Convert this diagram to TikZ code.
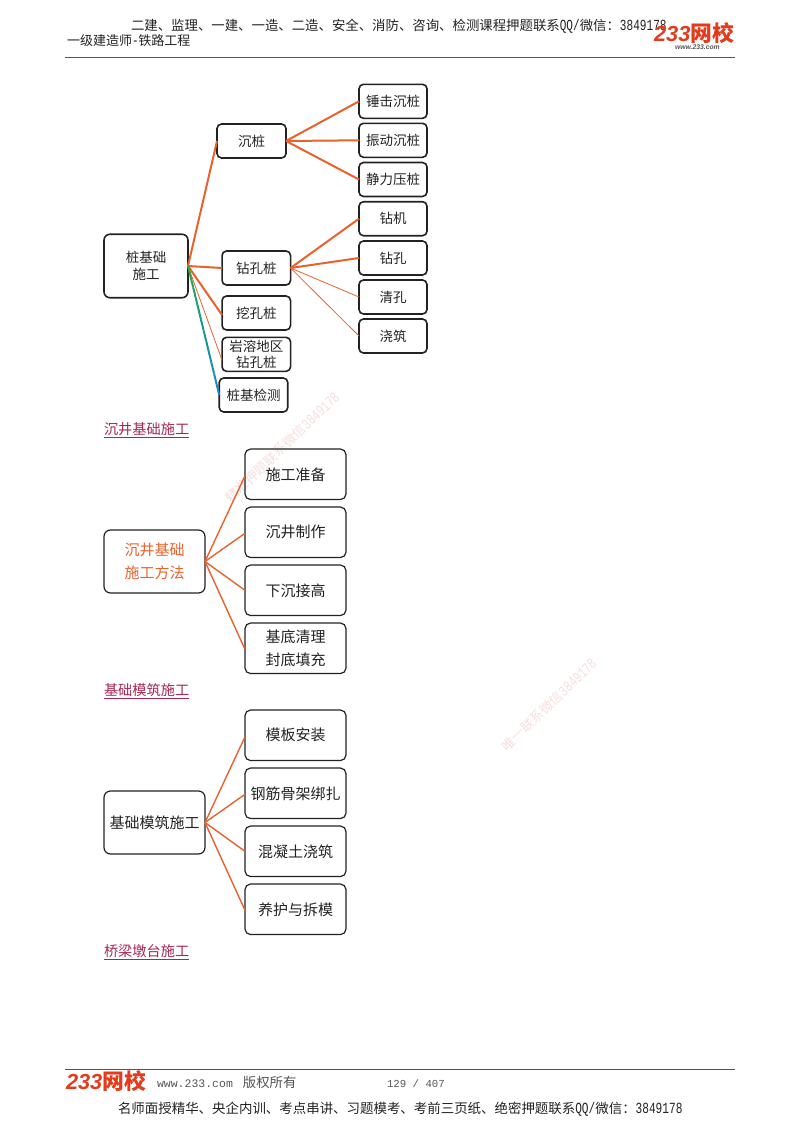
\documentclass[tikz,border=0pt]{standalone}
\usepackage{fontspec}
\usetikzlibrary{calc}
\setmainfont{Noto Sans CJK SC}
\newfontfamily\hm[Scale=1.15,FakeStretch=0.72]{Liberation Mono}
\newfontfamily\wm{Liberation Mono}
\newfontfamily\logocjk[UprightFeatures={FakeSlant=0.2},BoldFeatures={FakeSlant=0.2}]{Noto Sans CJK SC}
\newfontfamily\logolat{Liberation Sans}
\definecolor{edgeo}{HTML}{E8622C}
\definecolor{ink}{HTML}{222222}
\definecolor{linkc}{HTML}{A6274F}
\definecolor{wmark}{HTML}{F5DEDE}
\definecolor{logor}{HTML}{E23C1C}
\definecolor{rule}{HTML}{555555}
\definecolor{cA}{HTML}{22A84F}
\definecolor{cB}{HTML}{1C86C8}
\newcommand{\fs}[2]{\fontsize{#1}{#2}\selectfont}
\tikzset{
  box/.style={draw=ink,rounded corners=4.5pt,inner sep=0pt,outer sep=0pt,align=center,text=ink,line width=1.6pt,font=\fs{13.5}{16.5}},
  big/.style={box,rounded corners=5.5pt,line width=1.2pt,font=\fs{15}{22.8}},
  thick edge/.style={draw=edgeo,line width=2pt},
  mid edge/.style={draw=edgeo,line width=1.4pt},
  thin edge/.style={draw=edgeo,line width=0.8pt},
  plain/.style={inner sep=0pt,outer sep=0pt,text=ink},
  link/.style={plain,anchor=west,text=linkc,font=\fs{14.2}{16}},
  wtext/.style={plain,text=wmark,rotate=44,font=\fs{13.2}{16}},
  logo/.style={plain,text=logor,font=\bfseries\logocjk\fs{21.8}{24}},
}
\begin{document}
\begin{tikzpicture}[x=1pt,y=-1pt]
\useasboundingbox (0,0) rectangle (800,1132);
% watermarks
\node[wtext] (w1) at (282.5,447.5) {精准押题联系微信{\hm 3849178}};
\node[wtext] (w2) at (549,705) {唯一联系微信{\hm 3849178}};
% header
\node[plain,anchor=west,font=\fs{13.4}{16}] (h1) at (131,26) {二建、监理、一建、一造、二造、安全、消防、咨询、检测课程押题联系{\hm QQ/}微信：{\hm 3849178}};
\node[plain,anchor=west,font=\fs{13}{15}] (h2) at (67,40.5) {一级建造师{\hm -}铁路工程};
\coordinate (hl) at (65,57.5); \coordinate (hr) at (735,57.5);
\draw[rule,line width=1.1pt] (hl) -- (hr);
\node[logo,anchor=west] (l1) at (654,33.5) {\logolat\bfseries\itshape 233\logocjk 网校};
\node[plain,anchor=west,text=rule,font=\logolat\bfseries\itshape\fs{6.8}{8}] (l1b) at (675,47.5) {www.233.com};
% diagram 1
\node[box,rounded corners=6pt,minimum width=84pt,minimum height=63.5pt,font=\fs{13.5}{16.5}] (r1) at (146,266) {桩基础\\施工};
\node[box,minimum width=69pt,minimum height=34pt] (a1) at (251.5,141) {沉桩};
\node[box,minimum width=68.5pt,minimum height=34pt] (a2) at (256.3,268) {钻孔桩};
\node[box,minimum width=68.5pt,minimum height=34pt] (a3) at (256.3,313) {挖孔桩};
\node[box,minimum width=68.5pt,minimum height=34pt] (a4) at (256.3,354.3) {岩溶地区\\钻孔桩};
\node[box,minimum width=68.5pt,minimum height=34pt] (a5) at (253.5,395) {桩基检测};
\node[box,minimum width=68pt,minimum height=34pt] (b1) at (393,101.3) {锤击沉桩};
\node[box,minimum width=68pt,minimum height=34pt] (b2) at (393,140.3) {振动沉桩};
\node[box,minimum width=68pt,minimum height=34pt] (b3) at (393,179.5) {静力压桩};
\node[box,minimum width=68pt,minimum height=34pt] (c1) at (393,218.7) {钻机};
\node[box,minimum width=68pt,minimum height=34pt] (c2) at (393,258) {钻孔};
\node[box,minimum width=68pt,minimum height=34pt] (c3) at (393,297) {清孔};
\node[box,minimum width=68pt,minimum height=34pt] (c4) at (393,336) {浇筑};
\draw[thick edge] (r1.east) -- (a1.west);
\draw[thick edge] (r1.east) -- (a2.west);
\draw[thick edge] (r1.east) -- ([yshift=-2pt]a3.west);
\draw[thin edge] (r1.east) -- ([yshift=-6pt]a4.west);
\foreach \i in {0,...,11}{
  \pgfmathsetmacro{\ta}{\i/12}
  \pgfmathsetmacro{\tb}{(\i+1)/12}
  \pgfmathtruncatemacro{\p}{\i*9}
  \colorlet{gc}{cB!\p!cA}
  \draw[gc,line width=2pt] ($(r1.east)!\ta!(a5.west)$) -- ($(r1.east)!\tb!(a5.west)$);
}
\draw[thick edge] (a1.east) -- (b1.west);
\draw[thick edge] (a1.east) -- (b2.west);
\draw[thick edge] (a1.east) -- (b3.west);
\draw[thick edge] (a2.east) -- (c1.west);
\draw[thick edge] (a2.east) -- (c2.west);
\draw[thin edge] (a2.east) -- (c3.west);
\draw[thin edge] (a2.east) -- (c4.west);
\node[link] (s1) at (104,430) {\underline{沉井基础施工}};
% diagram 2
\node[big,rounded corners=6.5pt,minimum width=101pt,minimum height=63pt,text=edgeo] (r2) at (154.5,561.5) {沉井基础\\施工方法};
\node[big,minimum width=101pt,minimum height=50.5pt] (d1) at (295.5,474.3) {施工准备};
\node[big,minimum width=101pt,minimum height=50.5pt] (d2) at (295.5,532.3) {沉井制作};
\node[big,minimum width=101pt,minimum height=50.5pt] (d3) at (295.5,590.3) {下沉接高};
\node[big,minimum width=101pt,minimum height=50.5pt] (d4) at (295.5,648.3) {基底清理\\封底填充};
\foreach \n/\s in {d1/-1.5,d2/-1,d3/0,d4/-1}
  \draw[mid edge] (r2.east) -- ([yshift=\s pt]\n.west);
\node[link] (s2) at (104,691) {\underline{基础模筑施工}};
% diagram 3
\node[big,rounded corners=6.5pt,minimum width=101pt,minimum height=63pt] (r3) at (154.5,822.5) {基础模筑施工};
\node[big,minimum width=101pt,minimum height=50.5pt] (e1) at (295.5,735.3) {模板安装};
\node[big,minimum width=101pt,minimum height=50.5pt] (e2) at (295.5,793.3) {钢筋骨架绑扎};
\node[big,minimum width=101pt,minimum height=50.5pt] (e3) at (295.5,851.3) {混凝土浇筑};
\node[big,minimum width=101pt,minimum height=50.5pt] (e4) at (295.5,909.3) {养护与拆模};
\foreach \n/\s in {e1/-1.5,e2/-1,e3/0,e4/-1}
  \draw[mid edge] (r3.east) -- ([yshift=\s pt]\n.west);
\node[link] (s3) at (104,952) {\underline{桥梁墩台施工}};
% footer
\coordinate (fl) at (65,1069.5); \coordinate (fr) at (735,1069.5);
\draw[rule,line width=1.1pt] (fl) -- (fr);
\node[logo,anchor=west] (l2) at (66,1081) {\logolat\bfseries\itshape 233\logocjk 网校};
\node[plain,anchor=west,text=rule,font=\fs{13.4}{16}] (f1) at (157,1082.5) {{\wm\fs{11.5}{16}www.233.com}\hspace{10pt}版权所有};
\node[plain,anchor=west,text=rule,font=\wm\fs{10.7}{12}] (f2) at (387,1083.5) {129 / 407};
\node[plain,anchor=west,font=\fs{13.45}{16}] (f3) at (118,1109.5) {名师面授精华、央企内训、考点串讲、习题模考、考前三页纸、绝密押题联系{\hm QQ/}微信：{\hm 3849178}};
\end{tikzpicture}
\end{document}
